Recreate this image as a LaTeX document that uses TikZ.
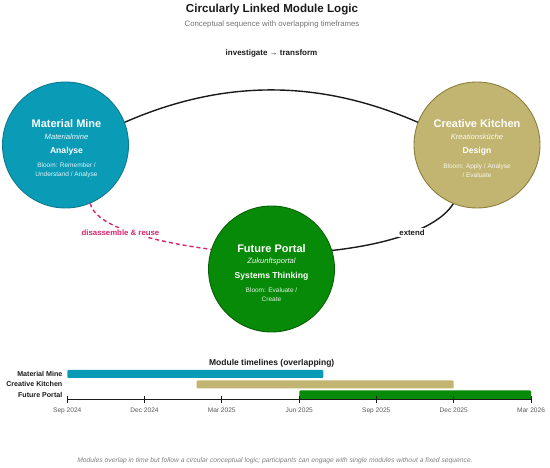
\documentclass[tikz,border=0pt]{standalone}
\usepackage{fontspec}
\setmainfont{Liberation Sans}
\definecolor{mmfill}{HTML}{0A9BB7}
\definecolor{mmdraw}{HTML}{0B7A8E}
\definecolor{ckfill}{HTML}{C2B571}
\definecolor{ckdraw}{HTML}{8C7F3C}
\definecolor{fpfill}{HTML}{078A07}
\definecolor{fpdraw}{HTML}{056105}
\definecolor{pinkc}{HTML}{D6246E}
\definecolor{inkc}{HTML}{1A1A1A}
\begin{document}
\begin{tikzpicture}[x=1pt,y=-1pt,
  modcirc/.style={circle, minimum size=126pt, inner sep=0pt, line width=0.9pt},
  ctitle/.style={text=white, font=\fontsize{11}{13}\selectfont\bfseries},
  cital/.style={text=white, opacity=0.92, font=\fontsize{7.6}{9}\selectfont\itshape},
  csub/.style={text=white, font=\fontsize{8.6}{10}\selectfont\bfseries},
  cbloom/.style={text=white, opacity=0.88, align=center, font=\fontsize{6.5}{8.7}\selectfont},
  conn/.style={line width=1.4pt, inkc},
  elabel/.style={font=\fontsize{7.8}{9}\selectfont\bfseries, fill=white, inner sep=1.5pt},
  rowlab/.style={anchor=east, inner sep=0pt, font=\fontsize{7.1}{8}\selectfont\bfseries, text=inkc},
  ticklab/.style={font=\fontsize{6.6}{8}\selectfont, text=black!65},
]
\useasboundingbox (0,0) rectangle (550,468);

% titles
\node[font=\fontsize{11.6}{13}\selectfont\bfseries, text=inkc] (title) at (272,10) {Circularly Linked Module Logic};
\node[font=\fontsize{7.8}{9}\selectfont, text=black!55] (subtitle) at (272,24) {Conceptual sequence with overlapping timeframes};

% circles
\node[modcirc, fill=mmfill, draw=mmdraw] (mm) at (65.5,145) {};
\node[modcirc, fill=ckfill, draw=ckdraw] (ck) at (477,145) {};
\node[modcirc, fill=fpfill, draw=fpdraw] (fp) at (271.5,269) {};

% circle texts
\node[ctitle] (mmT) at (66.5,124) {Material Mine};
\node[cital] (mmI) at (66.5,137) {Materialmine};
\node[csub] (mmS) at (66.5,151.5) {Analyse};
\node[cbloom] (mmB) at (66.5,170.5) {Bloom: Remember /\\Understand / Analyse};

\node[ctitle] (ckT) at (477,124) {Creative Kitchen};
\node[cital] (ckI) at (477,137) {Kreationsküche};
\node[csub] (ckS) at (477,151.5) {Design};
\node[cbloom] (ckB) at (477,170.5) {Bloom: Apply / Analyse\\/ Evaluate};

\node[ctitle] (fpT) at (271.5,249) {Future Portal};
\node[cital] (fpI) at (271.5,262) {Zukunftsportal};
\node[csub] (fpS) at (271.5,276.5) {Systems Thinking};
\node[cbloom] (fpB) at (271.5,294.5) {Bloom: Evaluate /\\Create};

% connectors
\draw[conn] (mm.21) .. controls (223.7,79) and (319.3,79.3) .. (ck.159);
\node[font=\fontsize{8}{9}\selectfont\bfseries, text=inkc] (invlab) at (271.5,53.5) {investigate → transform};

\draw[conn] (fp.17) .. controls (397.7,243) and (439.3,225.7) .. (ck.248);
\node[elabel, text=inkc] (extlab) at (412,232.5) {extend};

\draw[line width=1.4pt, pinkc, dash pattern=on 4pt off 3pt] (mm.-67) .. controls (94.3,223) and (136.7,239.3) .. (fp.162);
\node[elabel, text=pinkc] (dislab) at (120.5,232.5) {disassemble \& reuse};

% timeline
\node[font=\fontsize{8.5}{10}\selectfont\bfseries, text=inkc] (tltitle) at (271.7,363.3) {Module timelines (overlapping)};

\fill[mmfill, rounded corners=1pt] (67.3,370) rectangle (323.3,378);
\fill[ckfill, rounded corners=1pt] (196.7,380.3) rectangle (453.7,388.5);
\fill[fpfill, rounded corners=1pt] (299.3,390.5) rectangle (531,399.5);

\node[rowlab] (tlmm) at (62.5,374.3) {Material Mine};
\node[rowlab] (tlck) at (62.5,384.3) {Creative Kitchen};
\node[rowlab] (tlfp) at (62.5,394.6) {Future Portal};

\draw[line width=0.8pt, inkc] (67.3,399.5) -- (531,399.5);
\foreach \xx/\lab in {67.3/Sep 2024, 144.5/Dec 2024, 221.7/Mar 2025, 299.3/Jun 2025, 376.3/Sep 2025, 453.7/Dec 2025, 531/Mar 2026} {
  \draw[line width=0.8pt, inkc] (\xx,396.3) -- (\xx,402.7);
  \node[ticklab] at (\xx,410.7) {\lab};
}

% footer
\node[font=\fontsize{6.75}{8}\selectfont\itshape, text=black!50] (footer) at (275,460.5) {Modules overlap in time but follow a circular conceptual logic; participants can engage with single modules without a fixed sequence.};
\end{tikzpicture}
\end{document}
